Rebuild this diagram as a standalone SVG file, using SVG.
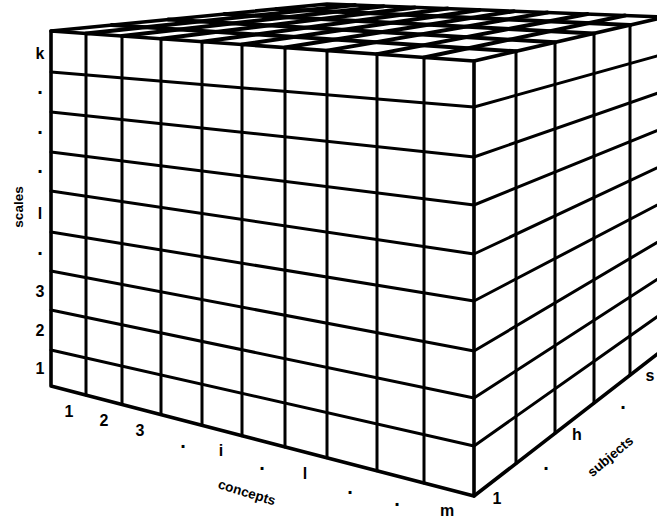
<svg xmlns="http://www.w3.org/2000/svg" width="657" height="518" viewBox="0 0 657 518">
<style>
.g{fill:none;stroke:#000;stroke-width:3;stroke-linecap:round;stroke-linejoin:round}
.top{fill:none;stroke:#000;stroke-width:4;stroke-linecap:round}
.edge{fill:none;stroke:#000;stroke-width:3.6;stroke-linejoin:round;stroke-linecap:round}
text{font-family:"Liberation Sans",Arial,sans-serif;font-weight:bold;fill:#000;text-anchor:middle}
.lb{font-size:16px}
.dt{font-size:20px}
.ax{font-size:13.5px}
</style>
<rect width="657" height="518" fill="#fff"/>
<g id="top-face">
<path class="top" d="M86,33.5L355,5.1M122,36L383.7,6.2M161,38.8L414.9,7.4M202,41.7L447.7,8.6M242,44.5L479.6,9.9M285,47.6L514,11.2M327,50.6L547.5,12.5M377,54.1L587.5,14M424,57.5L625.1,15.5"/>
<path class="top" d="M111.7,25.1L516,51.3M168.1,19.5L555,42.3M224.4,14L594,33.4M276.4,8.9L630,25.1"/>
<path class="edge" d="M51,31L327,4L665,17"/>
</g>
<g id="front-face">
<path class="g" d="M86,33.5V395.1M122,36V404.5M161,38.8V414.6M202,41.7V425.3M242,44.5V435.7M285,47.6V446.9M327,50.6V457.8M377,54.1V470.8M424,57.5V483"/>
<path class="g" d="M51,72L474,107M51,112L474,157M51,152L474,205M51,191L474,254M51,232L474,301M51,271L474,351M51,310L474,398M51,350L474,446"/>
<path class="edge" d="M51,31L474,61L474,496L51,386Z"/>
</g>
<g id="right-face">
<path class="g" d="M516,51.3V463.5M555,42.3V433.2M594,33.4V403M630,25.1V375.1"/>
<path class="g" d="M474,107L665,53.8M474,157L665,90.6M474,205L665,127.3M474,254L665,164.1M474,301L665,200.9M474,351L665,237.7M474,398L665,274.4M474,446L665,311.2"/>
<path class="edge" d="M474,61L665,17M474,496L665,348"/>
</g>
<g id="scales-labels">
<text class="lb" x="40" y="59">k</text>
<text class="dt" x="40" y="94">.</text>
<text class="dt" x="40" y="134">.</text>
<text class="dt" x="40" y="173">.</text>
<text class="lb" x="40" y="219">l</text>
<text class="dt" x="40" y="255">.</text>
<text class="lb" x="40" y="297">3</text>
<text class="lb" x="40" y="336">2</text>
<text class="lb" x="40" y="374">1</text>
<text class="ax" transform="translate(18,207) rotate(-90)" y="5">scales</text>
</g>
<g id="concepts-labels">
<text class="lb" x="69" y="417">1</text>
<text class="lb" x="104" y="426">2</text>
<text class="lb" x="140" y="436">3</text>
<text class="dt" x="183" y="448">.</text>
<text class="lb" x="221" y="456">i</text>
<text class="dt" x="262" y="470">.</text>
<text class="lb" x="305" y="479">l</text>
<text class="dt" x="350" y="494">.</text>
<text class="dt" x="397" y="506">.</text>
<text class="lb" x="447" y="516">m</text>
<text class="ax" transform="translate(247,492) rotate(17)" y="5">concepts</text>
</g>
<g id="subjects-labels">
<text class="lb" x="497" y="504">1</text>
<text class="dt" x="546" y="470">.</text>
<text class="lb" x="577" y="440">h</text>
<text class="dt" x="623" y="409">.</text>
<text class="lb" x="650" y="381">s</text>
<text class="ax" transform="translate(610,456) rotate(-40)" y="5">subjects</text>
</g>
</svg>
